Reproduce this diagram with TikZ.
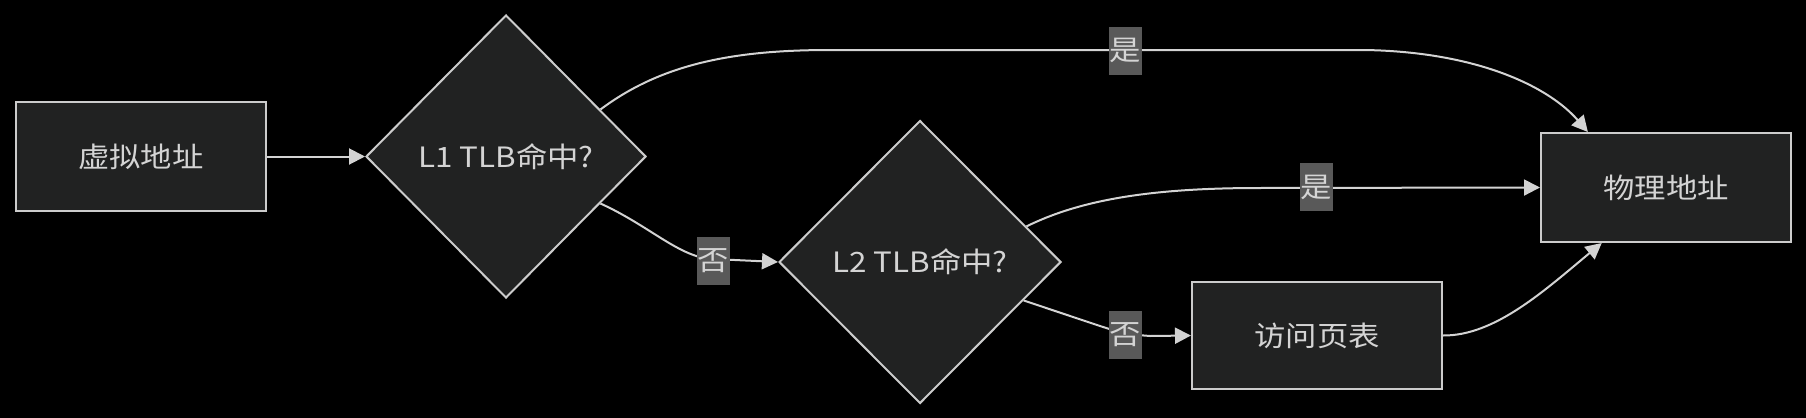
\documentclass[tikz,border=0pt]{standalone}
\usepackage{fontspec}
\setmainfont{Noto Sans CJK SC}[FakeStretch=1.12]
\usetikzlibrary{shapes.geometric,arrows.meta,calc}
\definecolor{nodefill}{HTML}{212222}
\definecolor{nodeline}{HTML}{CCCCCC}
\definecolor{txt}{HTML}{D4D4D4}
\definecolor{edgecol}{HTML}{D3D3D3}
\definecolor{lblbg}{HTML}{595959}
\tikzset{
  boxnode/.style={draw=nodeline, line width=1pt, fill=nodefill, text=txt, inner sep=0pt,
    font=\fontsize{14pt}{16pt}\selectfont},
  decnode/.style={diamond, draw=nodeline, line width=1pt, fill=nodefill, text=txt, inner sep=0pt,
    font=\fontsize{14pt}{16pt}\selectfont},
  lbl/.style={fill=lblbg, text=txt, inner sep=0pt, minimum width=16.5pt, minimum height=24pt,
    font=\fontsize{14pt}{16pt}\selectfont},
  conn/.style={draw=edgecol, line width=1pt, -{Triangle[length=8pt,width=8pt]}},
}
\begin{document}
\begin{tikzpicture}[x=0.5pt,y=-0.5pt]
\fill[black] (0,0) rectangle (1806,418);
\useasboundingbox (0,0) rectangle (1806,418);

\node[boxnode, minimum width=125pt, minimum height=54.5pt] (va) at (141,156.5) {虚拟地址};
\node[decnode, minimum width=140pt, minimum height=141.5pt] (l1) at (506,156.5) {L1 TLB命中?};
\node[decnode, minimum width=141pt, minimum height=141.5pt] (l2) at (920,262) {L2 TLB命中?};
\node[boxnode, minimum width=125pt, minimum height=53.5pt] (pt) at (1317,335.5) {访问页表};
\node[boxnode, minimum width=125pt, minimum height=54.5pt] (pa) at (1666,187.5) {物理地址};

\coordinate (l1a) at ($(l1.north)!0.67!(l1.east)$);
\coordinate (l1b) at ($(l1.east)!0.33!(l1.south)$);
\coordinate (l2a) at ($(l2.north)!0.75!(l2.east)$);
\coordinate (l2b) at ($(l2.east)!0.27!(l2.south)$);
\coordinate (paN) at ($(pa.north west)!0.19!(pa.north east)$);
\coordinate (paS) at ($(pa.south west)!0.245!(pa.south east)$);

% edges
\draw[conn] (va.east) -- (l1.west);
\draw[conn] (l1a) .. controls (660,65) and (730,50) .. (830,50) -- (1365,50)
   .. controls (1480,52) and (1550,88) .. (paN);
\draw[conn] (l2a) .. controls (1080,200) and (1150,188) .. (1259,188) -- (pa.west);
\draw[conn] (l1b) .. controls (650,226) and (680,258) .. (713,259) -- (l2.west);
\draw[conn] (l2b) -- (1100,326) .. controls (1125,334) .. (1150,336) -- (pt.west);
\draw[conn] (pt.east) .. controls (1495,336) and (1545,290) .. (paS);

% labels
\node[lbl] (y1) at (1125.5,50.5) {是};
\node[lbl] (y2) at (1316.5,187) {是};
\node[lbl] (n1) at (713,261) {否};
\node[lbl] (n2) at (1125.5,335) {否};
\end{tikzpicture}
\end{document}
